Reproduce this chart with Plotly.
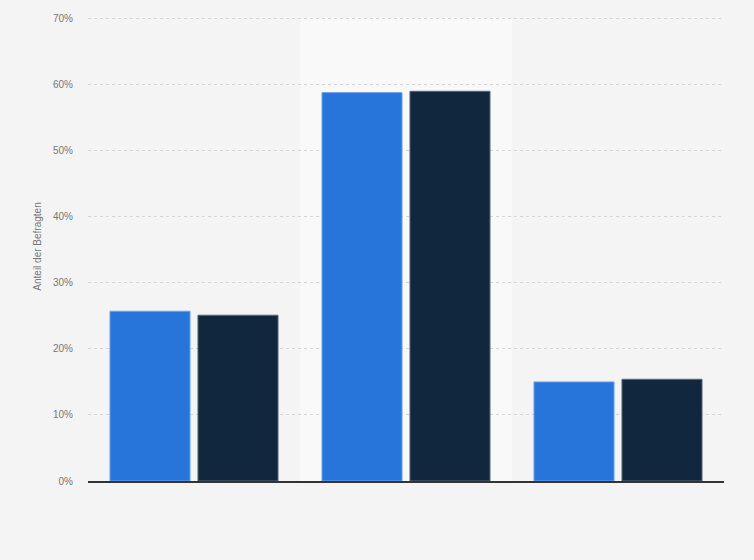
import plotly.graph_objects as go

# three answer groups (no labels shown on the chart), two survey waves
categories = ["Gruppe 1", "Gruppe 2", "Gruppe 3"]
series_1 = [25.7, 58.8, 15.0]
series_2 = [25.1, 59.0, 15.4]
series_names = ["Serie 1", "Serie 2"]
y_ticks = [0, 10, 20, 30, 40, 50, 60, 70]
y_tick_labels = [f"{t}%" for t in y_ticks]

fig = go.Figure()
fig.add_trace(go.Bar(
    x=categories, y=series_1, name=series_names[0],
    marker=dict(color="#2775db", line=dict(color="#6fa3ea", width=1)),
))
fig.add_trace(go.Bar(
    x=categories, y=series_2, name=series_names[1],
    marker=dict(color="#10273d", line=dict(color="#5a6b7c", width=1)),
))

# lighter band behind the middle group
fig.add_shape(
    type="rect", xref="x", yref="y",
    x0=0.5, x1=1.5, y0=0, y1=y_ticks[-1],
    fillcolor="#f9f9f9", line=dict(width=0), layer="below",
)

fig.update_layout(
    width=754, height=560,
    paper_bgcolor="#f4f4f4",
    plot_bgcolor="#f4f4f4",
    margin=dict(l=88, r=30, t=12, b=79),
    barmode="group",
    bargap=0.17,
    bargroupgap=0.09,
    showlegend=False,
    font=dict(family="Liberation Sans, Arial, sans-serif", size=10, color="#777777"),
    xaxis=dict(
        showticklabels=False,
        showgrid=False,
        showline=True, linecolor="#333333", linewidth=1.5,
        range=[-0.5, 2.5],
    ),
    yaxis=dict(
        range=[0, 71],
        tickvals=y_ticks,
        ticktext=y_tick_labels,
        showgrid=True, gridcolor="#d6d6d6", griddash="dot", gridwidth=1,
        zeroline=False,
        ticks="", ticklen=0,
        ticklabelstandoff=14,
        title=dict(text="Anteil der Befragten", font=dict(size=10, color="#777777"), standoff=9),
    ),
)

fig.write_html("out.html", config={"displayModeBar": False},
               post_script="document.body.style.margin='0px';")
